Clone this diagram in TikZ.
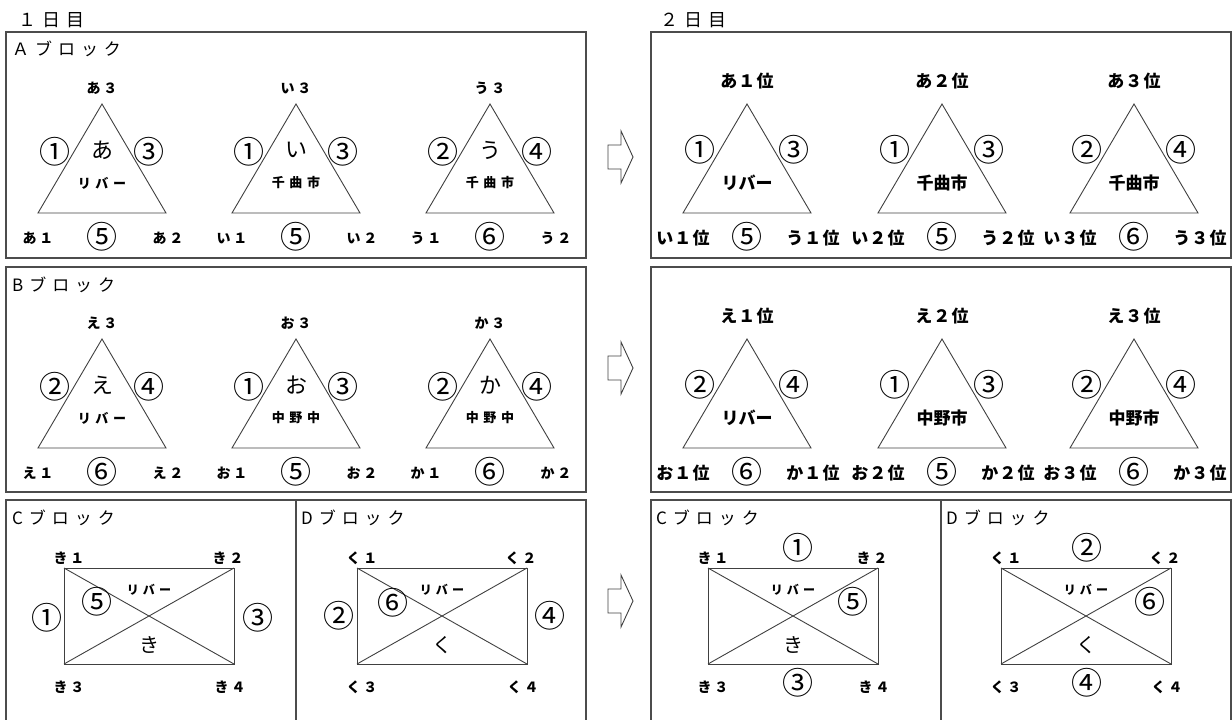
\documentclass[tikz,border=0pt]{standalone}
\usepackage{fontspec}
\newfontfamily\jp{Noto Sans CJK JP}
\newfontfamily\jpsp[LetterSpace=35]{Noto Sans CJK JP}
\newfontfamily\jpth[LetterSpace=20]{Noto Sans CJK JP}
\newfontfamily\jpnr[LetterSpace=6]{Noto Sans CJK JP}

\def\trishape{(-64,0) -- (0,-109) -- (64,0) -- cycle}
\def\rectshape{(-85,-48) rectangle (85,48)}
\def\hollowarrow{(0,-12) -- (13,-12) -- (13,-26) -- (25,0) -- (13,26) -- (13,12) -- (0,12) -- cycle}

% top, left no., right no., kana, town, left corner, bottom no., right corner
\def\triblock#1#2#3#4#5#6#7#8{%
    \draw[shapeline] \trishape;
    \node[vlabel, toppos] (top) at (0,-125) {#1};
    \node[circno, sidepos] (left) at (-47,-61) {#2};
    \node[circno, sidepos] (right) at (47,-61) {#3};
    \node[kana] (kana) at (0,-63) {#4};
    \node[town] (town) at (0,-30) {#5};
    \node[vlabel] (bl) at (-64,25) {#6};
    \node[circno] (bottom) at (0,24) {#7};
    \node[vlabel] (br) at (66,25) {#8};
}
% kana, corners 1-4
\def\rectblock#1#2#3#4#5{%
    \coordinate (nw) at (-85,-48);
    \coordinate (ne) at (85,-48);
    \coordinate (sw) at (-85,48);
    \coordinate (se) at (85,48);
    \draw[shapeline] \rectshape;
    \draw[shapeline] (nw) -- (se) (sw) -- (ne);
    \node[rivlabel] (river) at (0,-26) {リバー};
    \node[kana, font=\jp\fontsize{20}{20}\selectfont] (kana) at (0,29) {#1};
    \node[vlabel] (c1) at (-80,-58) {#2};
    \node[vlabel] (c2) at (79,-58) {#3};
    \node[vlabel] (c3) at (-80,71) {#4};
    \node[vlabel] (c4) at (81,71) {#5};
}

\begin{document}
\begin{tikzpicture}[x=1pt, y=-1pt,
    frame/.style={draw=black!70, line width=1.2pt},
    shapeline/.style={draw=black!75, line width=0.9pt},
    title/.style={font=\jpsp\fontsize{18}{18}\selectfont, anchor=west, inner sep=0pt},
    blocklabel/.style={font=\jpsp\fontsize{17}{17}\selectfont, anchor=west, inner sep=0pt},
    circno/.style={font=\jp\fontsize{31}{31}\selectfont, inner sep=0pt},
    vlabel/.style={font=\jpth\bfseries\fontsize{14}{14}\selectfont, inner sep=0pt},
    kana/.style={font=\jp\fontsize{22}{22}\selectfont, inner sep=0pt},
    town/.style={font=\jpsp\bfseries\fontsize{13}{13}\selectfont, inner sep=0pt},
    rivlabel/.style={font=\jpsp\bfseries\fontsize{12}{12}\selectfont, inner sep=0pt},
    toppos/.style={}, sidepos/.style={}]
    \useasboundingbox (0,0) rectangle (1232,720);

    \node[title] (day1) at (18,20) {１日目};
    \node[title] (day2) at (660,20) {２日目};

    % frames
    \draw[frame] (6,32) rectangle (586,258);
    \draw[frame] (6,267) rectangle (586,492);
    \draw[frame] (6,500) rectangle (296,740);
    \draw[frame] (296,500) rectangle (586,740);
    \draw[frame] (651,32) rectangle (1231,258);
    \draw[frame] (651,267) rectangle (1231,492);
    \draw[frame] (651,500) rectangle (941,740);
    \draw[frame] (941,500) rectangle (1231,740);

    \node[blocklabel] (blka) at (12,49) {Ａブロック};
    \node[blocklabel] (blkb) at (12,285) {Bブロック};
    \node[blocklabel] (blkc) at (12,518) {Cブロック};
    \node[blocklabel] (blkd) at (301,518) {Dブロック};
    \node[blocklabel] (blkc2) at (656,518) {Cブロック};
    \node[blocklabel] (blkd2) at (946,518) {Dブロック};

    % day 1
    \begin{scope}[shift={(102,213)}, name prefix=a-]
        \triblock{あ３}{①}{③}{あ}{リバー}{あ１}{⑤}{あ２}
    \end{scope}
    \begin{scope}[shift={(296,213)}, name prefix=i-]
        \triblock{い３}{①}{③}{い}{千曲市}{い１}{⑤}{い２}
    \end{scope}
    \begin{scope}[shift={(490,213)}, name prefix=u-]
        \triblock{う３}{②}{④}{う}{千曲市}{う１}{⑥}{う２}
    \end{scope}
    \begin{scope}[shift={(102,448)}, name prefix=e-]
        \triblock{え３}{②}{④}{え}{リバー}{え１}{⑥}{え２}
    \end{scope}
    \begin{scope}[shift={(296,448)}, name prefix=o-]
        \triblock{お３}{①}{③}{お}{中野中}{お１}{⑤}{お２}
    \end{scope}
    \begin{scope}[shift={(490,448)}, name prefix=ka-]
        \triblock{か３}{②}{④}{か}{中野中}{か１}{⑥}{か２}
    \end{scope}
    \begin{scope}[shift={(149,616)}, name prefix=ki-]
        \rectblock{き}{き１}{き２}{き３}{き４}
        \node[circno] (left) at (-102,2) {①};
        \node[circno] (right) at (109,2) {③};
        \node[circno] (inner) at (-52,-14) {⑤};
    \end{scope}
    \begin{scope}[shift={(442,616)}, name prefix=ku-]
        \rectblock{く}{く１}{く２}{く３}{く４}
        \node[circno] (left) at (-103,0) {②};
        \node[circno] (right) at (108,0) {④};
        \node[circno] (inner) at (-49,-13) {⑥};
    \end{scope}

    % arrows
    \begin{scope}[shift={(608,157)}]
        \draw[shapeline] \hollowarrow;
    \end{scope}
    \begin{scope}[shift={(608,368)}]
        \draw[shapeline] \hollowarrow;
    \end{scope}
    \begin{scope}[shift={(608,601)}]
        \draw[shapeline] \hollowarrow;
    \end{scope}

    % day 2
    \begin{scope}[town/.style={font=\jp\bfseries\fontsize{17}{17}\selectfont, inner sep=0pt},
        vlabel/.style={font=\jpnr\bfseries\fontsize{17}{17}\selectfont, inner sep=0pt},
        toppos/.style={yshift=7pt}, sidepos/.style={yshift=2pt}]
        \begin{scope}[shift={(747,213)}, name prefix=a2-]
            \triblock{あ１位}{①}{③}{}{リバー}{い１位}{⑤}{う１位}
        \end{scope}
        \begin{scope}[shift={(942,213)}, name prefix=b2-]
            \triblock{あ２位}{①}{③}{}{千曲市}{い２位}{⑤}{う２位}
        \end{scope}
        \begin{scope}[shift={(1134,213)}, name prefix=c2-]
            \triblock{あ３位}{②}{④}{}{千曲市}{い３位}{⑥}{う３位}
        \end{scope}
        \begin{scope}[shift={(747,448)}, name prefix=d2-]
            \triblock{え１位}{②}{④}{}{リバー}{お１位}{⑥}{か１位}
        \end{scope}
        \begin{scope}[shift={(942,448)}, name prefix=e2-]
            \triblock{え２位}{①}{③}{}{中野市}{お２位}{⑤}{か２位}
        \end{scope}
        \begin{scope}[shift={(1134,448)}, name prefix=f2-]
            \triblock{え３位}{②}{④}{}{中野市}{お３位}{⑥}{か３位}
        \end{scope}
    \end{scope}
    \begin{scope}[shift={(793,616)}, name prefix=ki2-]
        \rectblock{き}{き１}{き２}{き３}{き４}
        \node[circno] (top) at (5,-68) {①};
        \node[circno] (bottom) at (5,67) {③};
        \node[circno] (inner) at (60,-14) {⑤};
    \end{scope}
    \begin{scope}[shift={(1086,616)}, name prefix=ku2-]
        \rectblock{く}{く１}{く２}{く３}{く４}
        \node[circno] (top) at (1,-68) {②};
        \node[circno] (bottom) at (1,67) {④};
        \node[circno] (inner) at (64,-14) {⑥};
    \end{scope}
\end{tikzpicture}
\end{document}
